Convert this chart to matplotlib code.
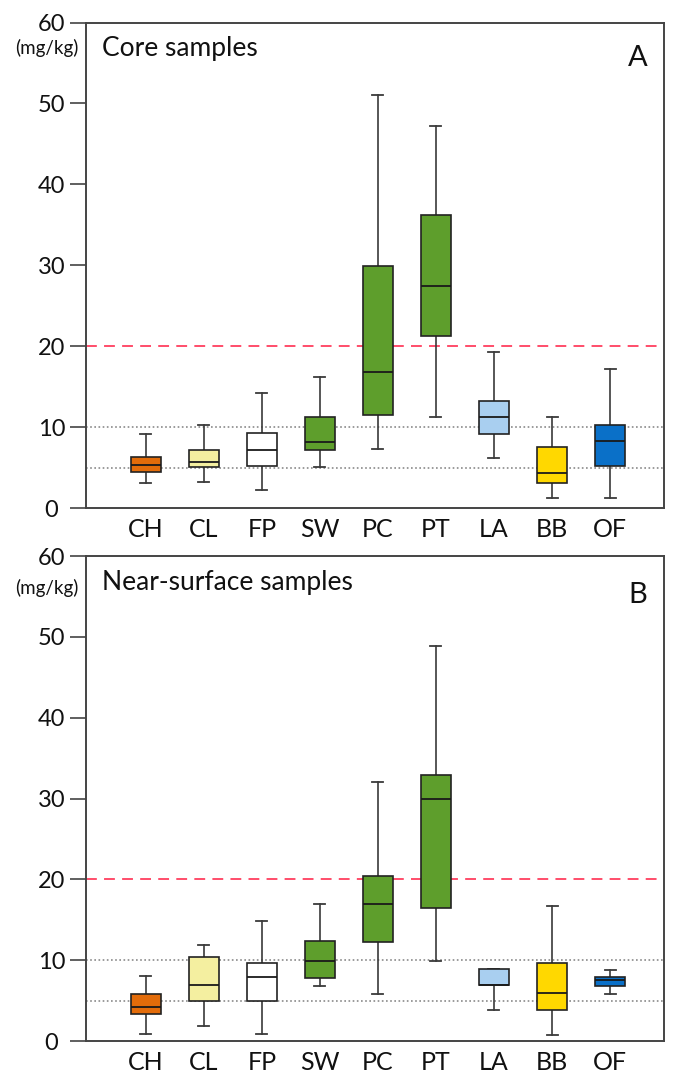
import matplotlib
matplotlib.use("Agg")
import matplotlib.pyplot as plt

plt.rcParams['font.family'] = ['Lato', 'DejaVu Sans']

### DATOS ###
cats = ['CH', 'CL', 'FP', 'SW', 'PC', 'PT', 'LA', 'BB', 'OF']
colors = ['#E36C0A', '#F4EFA0', '#FFFFFF', '#5E9E2C', '#5E9E2C', '#5E9E2C',
          '#A9CFF0', '#FFD800', '#0A70C8']

# core samples (A)
core_lo  = [3.1, 3.2, 2.2, 5.1, 7.3, 11.2, 6.2, 1.2, 1.2]
core_q1  = [4.4, 5.1, 5.2, 7.2, 11.5, 21.3, 9.2, 3.1, 5.15]
core_med = [5.3, 5.65, 7.2, 8.1, 16.8, 27.4, 11.25, 4.3, 8.25]
core_q3  = [6.3, 7.2, 9.25, 11.3, 29.9, 36.2, 13.2, 7.55, 10.3]
core_hi  = [9.2, 10.2, 14.2, 16.25, 51.1, 47.2, 19.3, 11.25, 17.2]

# near-surface samples (B)
surf_lo  = [0.9, 1.85, 0.9, 6.85, 5.85, 9.95, 3.9, 0.75, 5.8]
surf_q1  = [3.35, 4.95, 4.9, 7.85, 12.3, 16.5, 6.9, 3.85, 6.8]
surf_med = [4.2, 6.9, 7.9, 9.9, 16.9, 29.95, 6.9, 6.0, 7.5]
surf_q3  = [5.8, 10.4, 9.7, 12.4, 20.4, 32.9, 8.9, 9.6, 7.9]
surf_hi  = [8.1, 11.9, 14.9, 16.9, 32.05, 48.9, 8.9, 16.7, 8.8]

panels = [
    ('Core samples', 'A', core_lo, core_q1, core_med, core_q3, core_hi),
    ('Near-surface samples', 'B', surf_lo, surf_q1, surf_med, surf_q3, surf_hi),
]

fig = plt.figure(figsize=(6.74, 10.74), dpi=100)
rects = [[0.1276, 0.527, 0.8576, 0.452], [0.1276, 0.0307, 0.8576, 0.4516]]
# posiciones de textos (axes coords): y de mg/kg, y base del titulo, y base de la letra
txt_y = [(0.947, 0.9316, 0.910), (0.934, 0.930, 0.903)]

for rect, ty, (title, letra, lo, q1, med, q3, hi) in zip(rects, txt_y, panels):
    ax = fig.add_axes(rect)
    stats = []
    for i in range(len(cats)):
        stats.append(dict(whislo=lo[i], q1=q1[i], med=med[i], q3=q3[i],
                          whishi=hi[i], label=cats[i]))
    pos = list(range(1, len(cats) + 1))
    bp = ax.bxp(stats, positions=pos, widths=0.52, patch_artist=True,
                showfliers=False, capwidths=0.19,
                boxprops=dict(edgecolor='#222222', linewidth=1.2),
                medianprops=dict(color='#1a1a1a', linewidth=1.3),
                whiskerprops=dict(color='#3a3a3a', linewidth=1.2),
                capprops=dict(color='#3a3a3a', linewidth=1.3))
    for patch, c in zip(bp['boxes'], colors):
        patch.set_facecolor(c)
        patch.set_zorder(3)
    for ln in bp['medians']:
        ln.set_zorder(4)

    # lineas de referencia
    ax.axhline(20, color='#FF3F5F', linestyle=(0, (6, 4)), linewidth=1.3, zorder=1)
    ax.axhline(10, color='#8a8a8a', linestyle=(0, (1, 1.5)), linewidth=1.2, zorder=1)
    ax.axhline(5, color='#8a8a8a', linestyle=(0, (1, 1.5)), linewidth=1.2, zorder=1)

    ax.set_xlim(-0.03, 9.93)
    ax.set_ylim(0, 60)
    ax.set_yticks([0, 10, 20, 30, 40, 50, 60])
    ax.tick_params(axis='y', direction='out', length=11.5, width=1.2,
                   labelsize=17, colors='#444444', labelcolor='#111111', pad=13.3)
    for lab in ax.get_yticklabels():
        lab.set_horizontalalignment('center')
    ax.tick_params(axis='x', length=0, labelsize=18, labelcolor='#111111', pad=7)
    for s in ax.spines.values():
        s.set_linewidth(1.4)
        s.set_color('#444444')

    ax.text(-0.0675, ty[0], '(mg/kg)', transform=ax.transAxes, fontsize=13.5,
            ha='center', va='center', color='#111111')
    ax.text(0.0272, ty[1], title, transform=ax.transAxes, fontsize=19,
            ha='left', va='baseline', color='#111111')
    ax.text(0.954, ty[2], letra, transform=ax.transAxes, fontsize=21,
            ha='center', va='baseline', color='#111111')

fig.savefig('out.png', dpi=100)
